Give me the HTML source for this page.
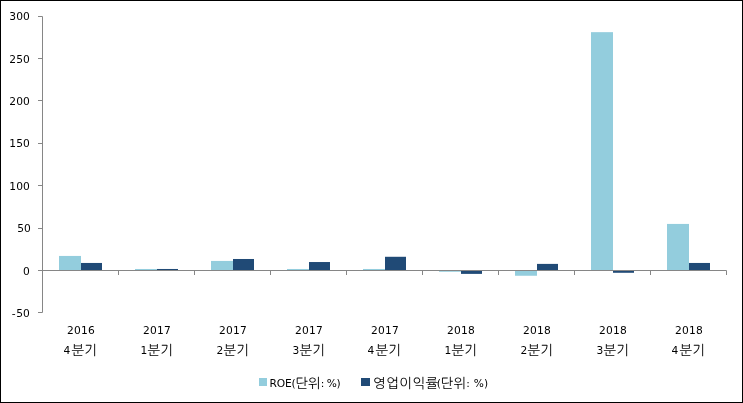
<!DOCTYPE html>
<html lang="ko"><head><meta charset="utf-8"><title>chart</title>
<style>
html,body{margin:0;padding:0;background:#fff;}
body{width:743px;height:403px;position:relative;overflow:hidden;font-family:"DejaVu Sans","Liberation Sans","NanumGothic",sans-serif;color:#000;}
#frame{position:absolute;left:0;top:0;width:741px;height:401px;border:1px solid #000;box-sizing:content-box;}
svg{position:absolute;left:0;top:0;}
.yl{position:absolute;left:0;width:30px;text-align:right;font-size:10.67px;letter-spacing:0.15px;line-height:12px;height:12px;white-space:nowrap;}
.xl{position:absolute;width:76px;text-align:center;font-size:10.67px;letter-spacing:0.25px;line-height:14px;height:14px;white-space:nowrap;}
.k{font-family:"DejaVu Sans","Liberation Sans","NanumGothic","Noto Sans CJK KR",sans-serif;font-size:13.5px;letter-spacing:0;}
.q{position:relative;top:-0.8px;margin-right:0.6px;left:-0.4px}
.q.r{left:0.5px}
.l{position:relative;top:-1.1px;}
.lg{position:absolute;font-size:10.67px;line-height:14px;height:14px;white-space:nowrap;}
.sw{position:absolute;width:8px;height:8px;}
</style></head><body>

<svg width="743" height="403" viewBox="0 0 743 403">
<rect x="59.00" y="255.94" width="22.00" height="14.56" fill="#93CDDD"/>
<rect x="81.00" y="262.96" width="21.00" height="7.54" fill="#204A76"/>
<rect x="135.00" y="268.98" width="22.00" height="1.52" fill="#93CDDD"/>
<rect x="157.00" y="268.98" width="21.00" height="1.52" fill="#204A76"/>
<rect x="211.00" y="260.93" width="22.00" height="9.57" fill="#93CDDD"/>
<rect x="233.00" y="258.99" width="21.00" height="11.51" fill="#204A76"/>
<rect x="287.00" y="268.98" width="22.00" height="1.52" fill="#93CDDD"/>
<rect x="309.00" y="262.03" width="21.00" height="8.47" fill="#204A76"/>
<rect x="363.00" y="268.98" width="22.00" height="1.52" fill="#93CDDD"/>
<rect x="385.00" y="256.78" width="21.00" height="13.72" fill="#204A76"/>
<rect x="439.00" y="270.50" width="22.00" height="1.27" fill="#93CDDD"/>
<rect x="461.00" y="270.50" width="21.00" height="3.39" fill="#204A76"/>
<rect x="515.00" y="270.50" width="22.00" height="5.25" fill="#93CDDD"/>
<rect x="537.00" y="263.90" width="21.00" height="6.60" fill="#204A76"/>
<rect x="591.00" y="32.16" width="22.00" height="238.34" fill="#93CDDD"/>
<rect x="613.00" y="270.50" width="21.00" height="2.29" fill="#204A76"/>
<rect x="667.00" y="223.93" width="22.00" height="46.57" fill="#93CDDD"/>
<rect x="689.00" y="262.96" width="21.00" height="7.54" fill="#204A76"/>
<g stroke="#868686" stroke-width="1" fill="none">
<path d="M42.5 16.5V312.5"/>
<path d="M38 16.50H42.5"/>
<path d="M38 58.50H42.5"/>
<path d="M38 100.50H42.5"/>
<path d="M38 143.50H42.5"/>
<path d="M38 185.50H42.5"/>
<path d="M38 228.50H42.5"/>
<path d="M38 270.50H42.5"/>
<path d="M38 312.50H42.5"/>
<path d="M42.5 270.5H726.5"/>
<path d="M118.5 270.5V275.0"/>
<path d="M194.5 270.5V275.0"/>
<path d="M270.5 270.5V275.0"/>
<path d="M346.5 270.5V275.0"/>
<path d="M422.5 270.5V275.0"/>
<path d="M498.5 270.5V275.0"/>
<path d="M574.5 270.5V275.0"/>
<path d="M650.5 270.5V275.0"/>
<path d="M726.5 270.5V275.0"/>
</g></svg>
<div class="yl" style="top:11.00px;width:30px">300</div>
<div class="yl" style="top:54.00px;width:30px">250</div>
<div class="yl" style="top:96.00px;width:30px">200</div>
<div class="yl" style="top:138.00px;width:30px">150</div>
<div class="yl" style="top:181.00px;width:30px">100</div>
<div class="yl" style="top:223.00px;width:31px">50</div>
<div class="yl" style="top:266.00px;width:30px">0</div>
<div class="yl" style="top:308.00px;width:30px"><span style="margin-left:-0.6px;letter-spacing:0.6px">-</span>50</div>
<div class="xl" style="left:43.0px;top:323.7px">2016</div>
<div class="xl" style="left:42.5px;top:343px"><span class="q">4</span><span class="k">분기</span></div>
<div class="xl" style="left:119.0px;top:323.7px">2017</div>
<div class="xl" style="left:118.5px;top:343px"><span class="q r">1</span><span class="k">분기</span></div>
<div class="xl" style="left:195.0px;top:323.7px">2017</div>
<div class="xl" style="left:194.5px;top:343px"><span class="q r">2</span><span class="k">분기</span></div>
<div class="xl" style="left:271.0px;top:323.7px">2017</div>
<div class="xl" style="left:270.5px;top:343px"><span class="q r">3</span><span class="k">분기</span></div>
<div class="xl" style="left:347.0px;top:323.7px">2017</div>
<div class="xl" style="left:346.5px;top:343px"><span class="q">4</span><span class="k">분기</span></div>
<div class="xl" style="left:423.0px;top:323.7px">2018</div>
<div class="xl" style="left:422.5px;top:343px"><span class="q r">1</span><span class="k">분기</span></div>
<div class="xl" style="left:499.0px;top:323.7px">2018</div>
<div class="xl" style="left:498.5px;top:343px"><span class="q r">2</span><span class="k">분기</span></div>
<div class="xl" style="left:575.0px;top:323.7px">2018</div>
<div class="xl" style="left:574.5px;top:343px"><span class="q r">3</span><span class="k">분기</span></div>
<div class="xl" style="left:651.0px;top:323.7px">2018</div>
<div class="xl" style="left:650.5px;top:343px"><span class="q">4</span><span class="k">분기</span></div>
<div class="sw" style="left:259px;top:378px;background:#93CDDD"></div>
<div class="lg" style="left:269.5px;top:376px"><span class="l" style="letter-spacing:-0.2px">ROE(</span><span class="k">단위</span><span class="l" style="letter-spacing:-0.45px">: %)</span></div>
<div class="sw" style="left:361px;top:378px;width:8.5px;background:#204A76"></div>
<div class="lg" style="left:373px;top:376px"><span class="k" style="letter-spacing:0.45px">영업이익</span><span class="k">률</span><span class="l" style="margin-left:-1.6px">(</span><span class="k">단위</span><span class="l" style="letter-spacing:0.1px;word-spacing:0.3px">: %)</span></div>
<div id="frame"></div>
</body></html>
